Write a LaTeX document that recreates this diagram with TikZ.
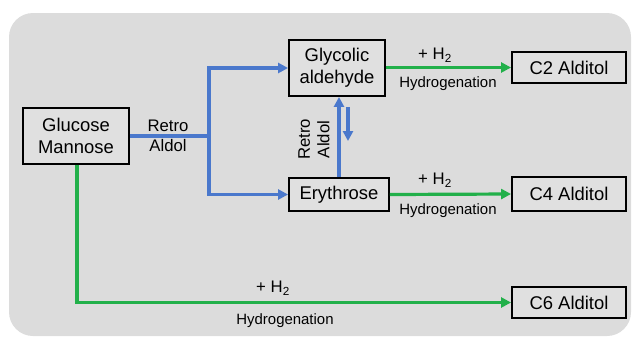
\documentclass[tikz,border=0pt]{standalone}
\usepackage{fontspec}
\setmainfont{Liberation Sans}
\usetikzlibrary{arrows.meta}
\definecolor{bgray}{HTML}{DCDCDC}
\definecolor{boxgray}{HTML}{E0E0E0}
\definecolor{bblue}{HTML}{4A78CC}
\definecolor{bgreen}{HTML}{22B04A}
\begin{document}
\begin{tikzpicture}[x=1bp,y=-1bp,
  stepbox/.style={draw=black,line width=1.9bp,fill=boxgray,inner sep=0pt,align=center,font=\fontsize{18.5}{22}\selectfont},
  blueline/.style={draw=bblue,line width=3.2bp},
  greenline/.style={draw=bgreen,line width=3.2bp},
  tip/.style={-{Triangle[length=10bp,width=10bp]}},
  lab/.style={inner sep=0pt,font=\fontsize{16.8}{19.5}\selectfont,align=center},
  hyd/.style={inner sep=0pt,font=\fontsize{15}{17}\selectfont}]
\useasboundingbox (0,0) rectangle (633,340);
\fill[bgray,rounded corners=24bp] (9,13) rectangle (631,336);

\node[stepbox,minimum width=106bp,minimum height=56bp] (glu) at (76,136) {Glucose\\Mannose};
\node[stepbox,minimum width=96bp,minimum height=56bp] (gly) at (337,68) {Glycolic\\aldehyde};
\node[stepbox,minimum width=100bp,minimum height=33bp] (ery) at (339,194.5) {Erythrose};
\node[stepbox,minimum width=114bp,minimum height=31bp] (c2) at (569,67.5) {C2 Alditol};
\node[stepbox,minimum width=114bp,minimum height=34bp] (c4) at (569,194) {C4 Alditol};
\node[stepbox,minimum width=114bp,minimum height=31bp] (c6) at (569,302.5) {C6 Alditol};

% blue retro-aldol connectors
\coordinate (split) at (209,136);
\draw[blueline] (glu.east) -- (split);
\draw[blueline,tip] (split) |- (gly.west);
\draw[blueline,tip] (split) |- (ery.west);
\node[lab] (ra1) at (168,136) {Retro\\Aldol};

\coordinate (upb) at (339,178);
\coordinate (upt) at (339,96);
\draw[blueline,tip] (ery.north -| upb) -- (gly.south -| upt);
\coordinate (dnt) at (348,107);
\coordinate (dnb) at (348,141);
\draw[blueline,tip] (dnt) -- (dnb);
\node[lab,rotate=90] (ra2) at (314,139.5) {Retro\\Aldol};

% green hydrogenation connectors
\draw[greenline,tip] (gly.east |- c2.west) -- (c2.west);
\node[lab] (h2a) at (435,55) {+ H\textsubscript{2}};
\node[hyd] (hya) at (448,84) {Hydrogenation};

\draw[greenline,tip] (ery.east) -- (c4.west);
\node[lab] (h2b) at (435,180) {+ H\textsubscript{2}};
\node[hyd] (hyb) at (448,211) {Hydrogenation};

\coordinate (corner) at (77,303);
\draw[greenline,tip] (glu.south -| corner) |- (c6.west);
\node[lab] (h2c) at (273,288) {+ H\textsubscript{2}};
\node[hyd] (hyc) at (285,321) {Hydrogenation};
\end{tikzpicture}
\end{document}
